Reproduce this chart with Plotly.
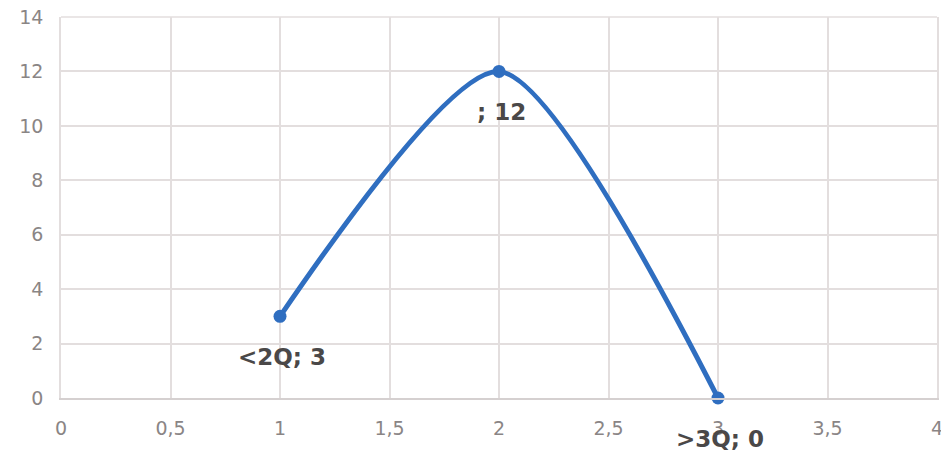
import plotly.graph_objects as go

x_vals = [1, 2, 3]
y_vals = [3, 12, 0]
point_labels = ["<2Q; 3", "; 12", ">3Q; 0"]
x_ticks = [0, 0.5, 1, 1.5, 2, 2.5, 3, 3.5, 4]
x_tick_text = ["0", "0,5", "1", "1,5", "2", "2,5", "3", "3,5", "4"]
y_ticks = [0, 2, 4, 6, 8, 10, 12, 14]

FONT = "DejaVu Sans, Liberation Sans, sans-serif"

fig = go.Figure()
fig.add_trace(go.Scatter(
    x=x_vals, y=y_vals, mode="lines+markers",
    line=dict(color="#2F6EC0", width=5, shape="spline", smoothing=0.7),
    marker=dict(color="#2F6EC0", size=13),
    showlegend=False, hoverinfo="skip", cliponaxis=False,
))

for xv, yv, t in zip(x_vals, y_vals, point_labels):
    fig.add_annotation(x=xv, y=yv, text=t, showarrow=False,
                       yshift=-41, xshift=2,
                       font=dict(family=FONT, size=23, color="#4A4848", weight="bold"))

grid = "#E3DEDE"
fig.update_layout(
    width=941, height=452,
    margin=dict(l=53, r=12, t=9, b=62),
    paper_bgcolor="white", plot_bgcolor="white",
    font=dict(family=FONT, size=19, color="#8A8585"),
)
fig.update_xaxes(range=[0, 4], tickvals=x_ticks, ticktext=x_tick_text,
                 automargin=False, ticklabeloverflow="allow",
                 showgrid=True, gridcolor=grid, gridwidth=1.5,
                 showline=True, linecolor="#D5D0D0", linewidth=1.5, mirror=False,
                 zeroline=False, ticks="", ticklabelstandoff=12,
                 tickfont=dict(family=FONT, size=19, color="#8A8585"))
fig.update_yaxes(range=[0, 14], tickvals=y_ticks,
                 automargin=False, ticklabeloverflow="allow",
                 showgrid=True, gridcolor=grid, gridwidth=1.5,
                 showline=True, linecolor="#E3DEDE", linewidth=1.5, mirror=True,
                 zeroline=False, ticks="", ticklabelstandoff=12,
                 tickfont=dict(family=FONT, size=19, color="#8A8585"))
fig.add_shape(type="line", xref="paper", yref="paper", x0=0, x1=1, y0=1, y1=1,
              line=dict(color=grid, width=1.5), layer="below")

fig.write_html("out.html")
